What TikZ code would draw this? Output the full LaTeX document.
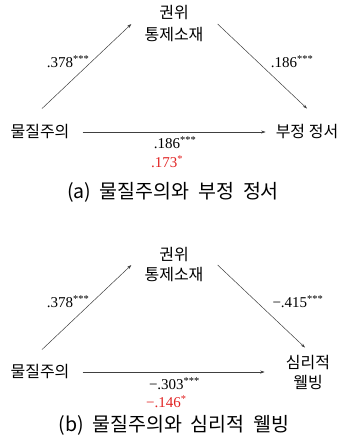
\documentclass[tikz,border=0pt]{standalone}
\usepackage{fontspec}
\usetikzlibrary{arrows.meta}
\newfontfamily\korfont{Noto Sans CJK KR}
\newfontfamily\numfont{Liberation Serif}
\definecolor{numred}{RGB}{225,35,35}
\begin{document}
\begin{tikzpicture}[x=1pt,y=-1pt,
  kor/.style={inner sep=0pt,align=center,font=\korfont\fontsize{16}{22}\selectfont},
  val/.style={inner sep=0pt,font=\numfont\fontsize{15}{16}\selectfont},
  captext/.style={inner sep=0pt,font=\korfont\fontsize{19.5}{22}\selectfont},
  arr/.style={draw=black!75,line width=.5pt,-{Stealth[length=4.5pt,width=3pt]}}]
  \useasboundingbox (0,0) rectangle (344,444);
  \node[kor] (meda) at (174,24) {권위\\통제소재};
  \node[kor] (xa) at (40,132) {물질주의};
  \node[kor] (ya) at (307,132) {부정\ 정서};
  \draw[arr] ([xshift=2pt,yshift=16pt]xa.north) -- ([xshift=-13pt]meda.west);
  \draw[arr] ([xshift=14pt]meda.east) -- ([yshift=16pt]ya.north);
  \draw[arr] ([xshift=13pt]xa.east) -- ([xshift=-10pt]ya.west);
  \node[val] at (68,62) {.378\textsuperscript{***}};
  \node[val] at (292,62) {.186\textsuperscript{***}};
  \node[val] at (175,143) {.186\textsuperscript{***}};
  \node[val,anchor=west,text=numred] at (151,162) {.173\textsuperscript{*}};
  \node[captext] at (173,192) {(a)\ \ 물질주의와\ \ 부정\ \ 정서};
  \node[kor,font=\korfont\fontsize{16}{20}\selectfont] (medb) at (174,265) {권위\\통제소재};
  \node[kor] (xb) at (40,372) {물질주의};
  \node[kor,font=\korfont\fontsize{16}{20}\selectfont] (yb) at (308,372) {심리적\\웰빙};
  \draw[arr] ([xshift=2pt,yshift=15pt]xb.north) -- ([xshift=-13pt]medb.west);
  \draw[arr] ([xshift=14pt]medb.east) -- ([xshift=-3pt,yshift=7pt]yb.north);
  \draw[arr] ([xshift=13pt]xb.east) -- ([xshift=-21pt]yb.west);
  \node[val] at (68,302) {.378\textsuperscript{***}};
  \node[val] at (298,302) {−.415\textsuperscript{***}};
  \node[val] at (174.5,384) {−.303\textsuperscript{***}};
  \node[val,anchor=west,text=numred] at (146,402) {−.146\textsuperscript{*}};
  \node[captext] at (174,425) {(b)\ \ 물질주의와\ \ 심리적\ \ 웰빙};
\end{tikzpicture}
\end{document}
